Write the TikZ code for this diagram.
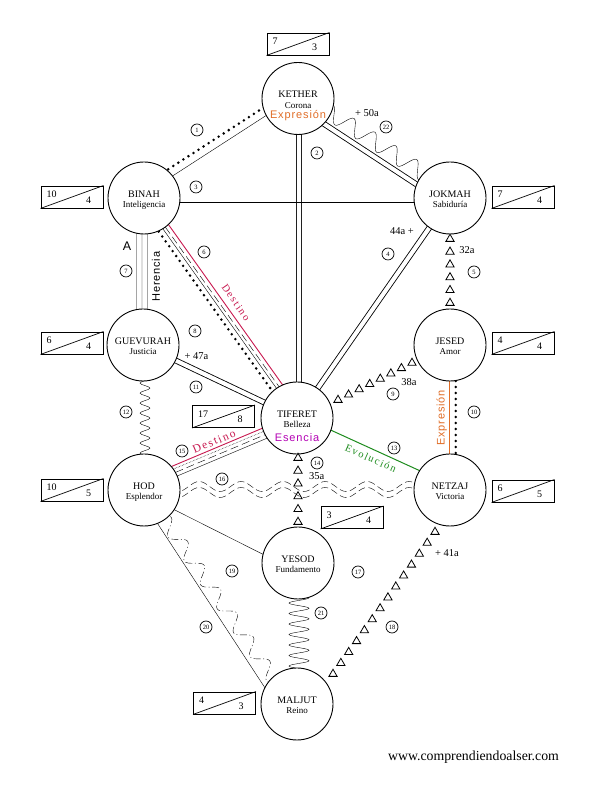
\documentclass[tikz,border=0pt]{standalone}
\usepackage{fontspec}
\setmainfont{Liberation Serif}
\newfontfamily\lsans[LetterSpace=8]{Liberation Sans}
\newfontfamily\plainsans{Liberation Sans}
\newfontfamily\lserif[LetterSpace=14]{Liberation Serif}
\usetikzlibrary{calc,decorations.pathmorphing,shapes.geometric}
\pgfdeclarelayer{bg}
\pgfdeclarelayer{paper}
\pgfsetlayers{paper,bg,main}
\definecolor{dred}{RGB}{200,25,80}
\definecolor{dorange}{RGB}{225,110,40}
\definecolor{dgreen}{RGB}{30,140,30}
\definecolor{dmag}{RGB}{180,0,180}
% offset link between two named nodes: [opts]{a}{b}{offset at a}{offset at b}
\newcommand\lnk[5][]{\draw[#1] ($(#2)!#4pt!90:(#3)$) -- ($(#3)!#5pt!-90:(#2)$);}
% number box: name, centre, left number, right number
\newcommand\nbx[4]{%
  \node[nbox] (#1) at (#2) {};
  \draw[line width=0.7pt] (#1.south west) -- (#1.north east);
  \node[bnum,anchor=west] (#1l) at ([shift={(-25.5,2.5)}]#1.center) {#3};
  \node[bnum] (#1r) at ([shift={(16.5,-3)}]#1.center) {#4};}
% sefira: name, centre, title, subtitle
\newcommand\sef[4]{%
  \node[sefc] (#1) at (#2) {};
  \node[nm] (#1n) at ([yshift=0.8pt]#1.center) {#3};
  \node[sub] (#1s) at ([yshift=-9.6pt]#1.center) {#4};}
\begin{document}
\begin{tikzpicture}[x=1pt,y=1pt,line width=0.9pt,
  sefc/.style={circle,draw,fill=white,minimum size=72pt,inner sep=0pt,line width=0.9pt},
  nm/.style={anchor=base,inner sep=0pt,font=\fontsize{10}{12}\selectfont},
  sub/.style={anchor=base,inner sep=0pt,font=\fontsize{9}{11}\selectfont},
  nbox/.style={draw,fill=white,minimum width=62pt,minimum height=22pt,inner sep=0pt,line width=0.9pt},
  bnum/.style={inner sep=0pt,font=\fontsize{10}{12}\selectfont},
  cnum/.style={circle,draw,fill=white,minimum size=12pt,inner sep=0pt,line width=0.7pt,font=\fontsize{6.5}{7}\selectfont},
  tri/.style={regular polygon,regular polygon sides=3,draw,inner sep=0pt,minimum size=9.5pt,line width=0.8pt},
  lab/.style={inner sep=0pt,font=\fontsize{10.5}{12}\selectfont},
  dbl/.style={double,double distance=4.1pt,line width=0.85pt},
  bigdots/.style={line width=2.8pt,dash pattern=on 0pt off 6pt,line cap=round},
  dasheight/.style={dash pattern=on 8pt off 4pt},
  snk/.style 2 args={decorate,decoration={snake,segment length=#1,amplitude=#2}}]
\begin{pgfonlayer}{paper}
\fill[white] (0,0) rectangle (596,786);
\end{pgfonlayer}
\useasboundingbox (0,0) rectangle (596,786);

% sefirot
\sef{ket}{298,687.5}{KETHER}{Corona}
\sef{bin}{144,588}{BINAH}{Inteligencia}
\sef{jok}{450,588}{JOKMAH}{Sabiduría}
\sef{gue}{143,441}{GUEVURAH}{Justicia}
\sef{jes}{450,441}{JESED}{Amor}
\sef{tif}{297,368}{TIFERET}{Belleza}
\sef{hod}{144,296}{HOD}{Esplendor}
\sef{net}{450,296}{NETZAJ}{Victoria}
\sef{yes}{298,223}{YESOD}{Fundamento}
\sef{mal}{297,82}{MALJUT}{Reino}
\node[anchor=base,inner sep=0pt,text=dorange,font=\fontsize{11}{12}\selectfont\lsans] (ketE) at ([yshift=-20.5pt]ket.center) {Expresión};
\node[anchor=base,inner sep=0pt,text=dmag,font=\fontsize{11}{12}\selectfont\lsans] (tifE) at ([yshift=-23.5pt]tif.center) {Esencia};

% number boxes
\nbx{ketB}{298,742}{7}{3}
\nbx{binB}{72,589}{10}{4}
\nbx{jokB}{523,589}{7}{4}
\nbx{gueB}{72,443}{6}{4}
\nbx{jesB}{523,443}{4}{4}
\nbx{tifB}{223.5,369.5}{17}{8}
\nbx{hodB}{72,296}{10}{5}
\nbx{netB}{523,295}{6}{5}
\nbx{yesB}{352,268.5}{3}{4}
\nbx{malB}{224.5,83}{4}{3}

% circled path numbers
\node[cnum] (n1) at (197,656) {1};
\node[cnum] (n2) at (317,633) {2};
\node[cnum] (n3) at (196,599) {3};
\node[cnum] (n22) at (386,659) {22};
\node[cnum] (n4) at (388,532) {4};
\node[cnum] (n5) at (474,514) {5};
\node[cnum] (n6) at (204,534) {6};
\node[cnum] (n7) at (126,515) {7};
\node[cnum] (n8) at (195,455) {8};
\node[cnum] (n11) at (196,399) {11};
\node[cnum] (n12) at (126,374) {12};
\node[cnum] (n9) at (393,392) {9};
\node[cnum] (n10) at (474,374) {10};
\node[cnum] (n13) at (394,338) {13};
\node[cnum] (n14) at (317,323) {14};
\node[cnum] (n15) at (182,335) {15};
\node[cnum] (n16) at (222,307) {16};
\node[cnum] (n19) at (232,215) {19};
\node[cnum] (n17) at (358,214) {17};
\node[cnum] (n21) at (321,173) {21};
\node[cnum] (n20) at (206,159) {20};
\node[cnum] (n18) at (392,159) {18};

% small labels
\node[lab] (l50) at (367,672.7) {+ 50a};
\node[lab] (l44) at (402,555.3) {44a +};
\node[lab] (l32) at (467,536) {32a};
\node[lab] (l38) at (409,404.3) {38a};
\node[lab] (l47) at (196.5,430) {+ 47a};
\node[lab] (l35) at (316.7,310) {35a};
\node[lab] (l41) at (447,233.3) {+ 41a};
\node[inner sep=0pt,font=\fontsize{12.5}{14}\selectfont\plainsans] (lA) at (127,540) {A};
\node[inner sep=0pt,rotate=90,font=\fontsize{11}{12}\selectfont\lsans] (lher) at (156,509.3) {Herencia};
\node[inner sep=0pt,rotate=-55,text=dred,font=\fontsize{10.5}{12}\selectfont\lserif] (ldes1) at (236,483.5) {Destino};
\node[inner sep=0pt,rotate=23,text=dred,font=\fontsize{11.5}{13}\selectfont\lserif] (ldes2) at (214,344.5) {Destino};
\node[inner sep=0pt,rotate=-24,text=dgreen,font=\fontsize{10.5}{12}\selectfont\lserif] (levo) at (370.8,327.7) {Evolución};
\node[inner sep=0pt,rotate=90,text=dorange,font=\fontsize{11}{12}\selectfont\lsans] (lexp) at (441.7,368) {Expresión};
\node[inner sep=0pt,font=\fontsize{13.8}{16}\selectfont] (web) at (473.5,29) {www.comprendiendoalser.com};

% triangle paths
\foreach \i in {0,...,5} \node[tri] (ta\i) at ($(jok)+(0,{-41-12.8*\i})$) {};
\foreach \i in {0,...,7} \node[tri] (tb\i) at ($(tif)+({41+10.57*\i},{18+5.29*\i})$) {};
\foreach \i in {0,...,5} \node[tri] (tc\i) at ($(tif)+(1,{-40-12.8*\i})$) {};
\foreach \i in {0,...,13} \node[tri] (td\i) at ($(mal)+({36+7.846*\i},{30+10.923*\i})$) {};

\begin{pgfonlayer}{bg}
% 1 Kether-Binah
\lnk{bin}{ket}{3}{3}
\lnk[bigdots]{bin}{ket}{11}{11}
% 22 Kether-Jokmah
\lnk[dbl]{ket}{jok}{-7}{-7}
\lnk[snk={25pt}{8pt}]{ket}{jok}{6}{6}
% 2 Kether-Tiferet
\lnk[dbl]{ket}{tif}{1}{2}
% 3 Binah-Jokmah
\lnk{bin}{jok}{-4}{-4}
% 4 Jokmah-Tiferet
\lnk[dbl]{jok}{tif}{0}{0}
% 6 Binah-Tiferet
\lnk[bigdots]{bin}{tif}{-7.5}{-4.5}
\lnk{bin}{tif}{-2.5}{0.5}
\lnk[dasheight]{bin}{tif}{0.5}{3.5}
\lnk[dred,line width=0.9pt]{bin}{tif}{4.5}{7.5}
% 7 Binah-Guevurah
\lnk{bin}{gue}{-7.5}{-6.5}
\lnk{bin}{gue}{-2}{-1}
\lnk{bin}{gue}{3.5}{4.5}
% 10 Jesed-Netzaj
\lnk[dorange,line width=1.3pt]{jes}{net}{-0.7}{-0.7}
\lnk[bigdots]{jes}{net}{5.7}{5.7}
% 11 Guevurah-Tiferet
\lnk[dbl]{gue}{tif}{0}{0}
% 12 Guevurah-Hod
\lnk[snk={10pt}{5pt}]{gue}{hod}{2}{1}
% 13 Tiferet-Netzaj
\lnk[dgreen,line width=1pt]{tif}{net}{3}{5}
% 15 Hod-Tiferet
\lnk[dred,line width=0.9pt]{hod}{tif}{11}{4}
\lnk[densely dotted,line width=0.5pt]{hod}{tif}{8}{0.5}
\lnk[dasheight]{hod}{tif}{4}{-3}
\lnk{hod}{tif}{0}{-7}
% 16 Hod-Netzaj
\lnk[snk={42pt}{5pt},dash pattern=on 7pt off 3.5pt]{hod}{net}{3.5}{3.5}
\lnk[snk={42pt}{5pt},dash pattern=on 7pt off 3.5pt]{hod}{net}{-2.5}{-2.5}
% 19 Hod-Yesod
\lnk{hod}{yes}{-4}{-8}
% 20 Hod-Maljut
\lnk{hod}{mal}{-7}{-18}
\lnk[snk={29pt}{7pt},dash pattern=on 7pt off 2.5pt on 1pt off 2.5pt]{hod}{mal}{0}{-5}
% 21 Yesod-Maljut
\lnk[snk={10.5pt}{10pt}]{yes}{mal}{1}{2}
\end{pgfonlayer}
\end{tikzpicture}
\end{document}
